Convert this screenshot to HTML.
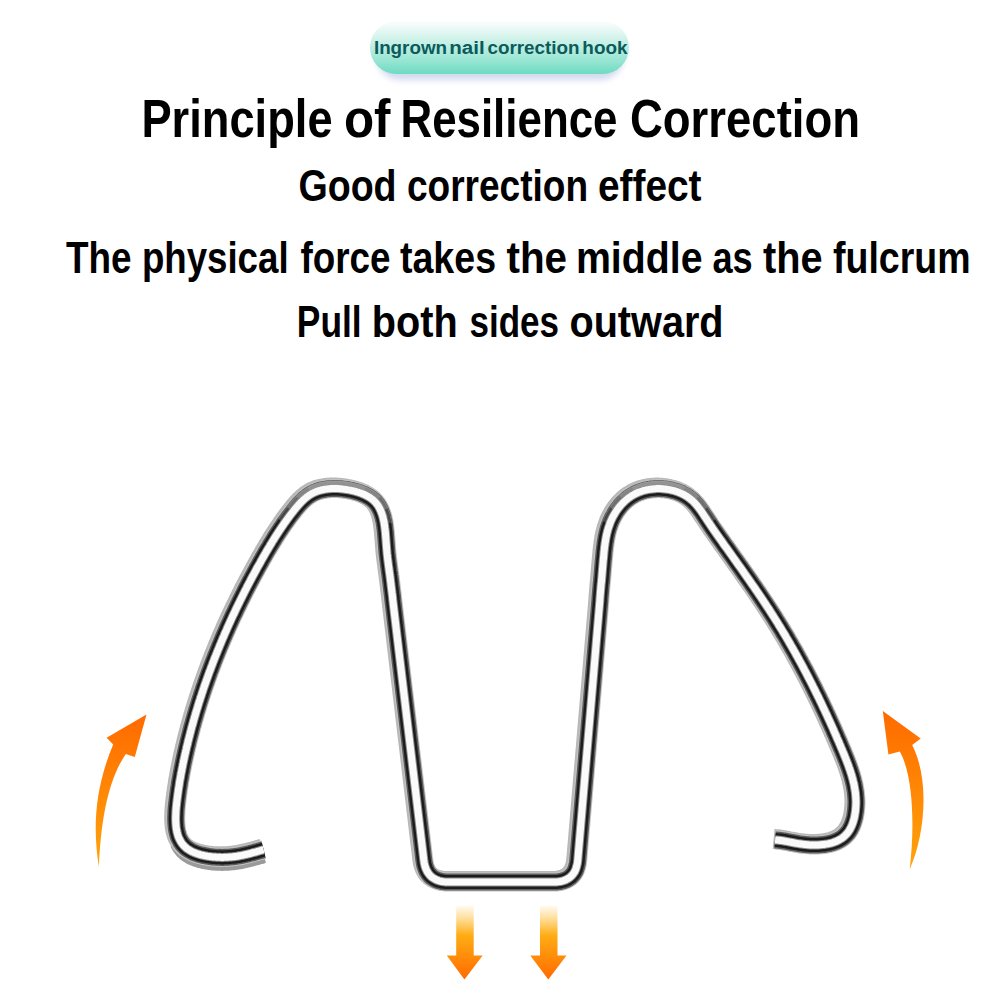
<!DOCTYPE html>
<html><head><meta charset="utf-8">
<style>
html,body{margin:0;padding:0;background:#fff;width:1002px;height:1002px;overflow:hidden}
svg{display:block}
text{font-family:"Liberation Sans",sans-serif;font-weight:bold}
</style></head><body>
<svg width="1002" height="1002" viewBox="0 0 1002 1002">
<defs>
<linearGradient id="pill" x1="0" y1="0" x2="0" y2="1">
<stop offset="0" stop-color="#fdfefe"/>
<stop offset="0.12" stop-color="#eefaf7"/>
<stop offset="0.28" stop-color="#d8f4ed"/>
<stop offset="0.65" stop-color="#a6e9d8"/>
<stop offset="1" stop-color="#6ddbc2"/>
</linearGradient>
<filter id="blur1" x="-10%" y="-30%" width="120%" height="160%"><feGaussianBlur stdDeviation="0.7"/></filter>
<filter id="blur3" x="-20%" y="-50%" width="140%" height="200%"><feGaussianBlur stdDeviation="3"/></filter>
<linearGradient id="upL" x1="0" y1="1" x2="0" y2="0">
<stop offset="0" stop-color="#ffa40a"/>
<stop offset="1" stop-color="#ff6a00"/>
</linearGradient>
<linearGradient id="dn" x1="0" y1="0" x2="0" y2="1">
<stop offset="0" stop-color="#fffaf0"/>
<stop offset="0.18" stop-color="#ffdc94"/>
<stop offset="0.4" stop-color="#ffac14"/>
<stop offset="1" stop-color="#ff6a00"/>
</linearGradient>
<path id="w" d="M263.6,849.7 L262.4,850.0 L261.2,850.4 L259.9,850.7 L258.7,851.1 L257.5,851.4 L256.4,851.8 L255.2,852.1 L254.0,852.4 L252.9,852.7 L251.8,853.0 L250.6,853.3 L249.5,853.6 L248.4,853.9 L247.3,854.2 L246.1,854.4 L245.0,854.7 L243.9,854.9 L242.8,855.2 L241.7,855.4 L240.6,855.6 L239.5,855.8 L238.4,856.0 L237.2,856.2 L236.1,856.4 L234.9,856.5 L233.8,856.7 L232.6,856.8 L231.5,856.9 L230.3,857.0 L229.1,857.1 L227.9,857.2 L226.7,857.3 L225.4,857.3 L224.2,857.3 L222.9,857.4 L221.6,857.4 L220.3,857.3 L219.0,857.3 L217.7,857.3 L216.4,857.2 L215.1,857.1 L213.8,857.0 L212.4,856.9 L211.1,856.7 L209.8,856.6 L208.5,856.4 L207.2,856.2 L205.9,855.9 L204.6,855.7 L203.3,855.4 L202.0,855.1 L200.8,854.8 L199.6,854.5 L198.4,854.1 L197.2,853.7 L196.0,853.3 L194.8,852.8 L193.7,852.4 L192.6,851.9 L191.6,851.4 L190.5,850.8 L189.5,850.2 L188.6,849.6 L187.6,849.0 L186.7,848.4 L185.9,847.7 L185.1,846.9 L184.3,846.2 L183.6,845.4 L182.9,844.6 L182.2,843.8 L181.6,842.9 L181.0,842.1 L180.5,841.1 L180.0,840.2 L179.5,839.3 L179.0,838.3 L178.6,837.3 L178.2,836.3 L177.9,835.2 L177.6,834.2 L177.3,833.1 L177.0,832.0 L176.8,830.9 L176.6,829.8 L176.4,828.7 L176.2,827.5 L176.1,826.4 L176.0,825.2 L175.9,824.0 L175.8,822.8 L175.8,821.6 L175.7,820.4 L175.7,819.1 L175.7,817.9 L175.7,816.7 L175.8,815.4 L175.8,814.2 L175.9,812.9 L175.9,811.7 L176.0,810.4 L176.1,809.1 L176.2,807.9 L176.3,806.6 L176.5,805.3 L176.6,804.1 L176.7,802.8 L176.9,801.6 L177.0,800.3 L177.2,799.0 L177.3,797.8 L177.5,796.6 L177.7,795.3 L177.8,794.1 L178.0,792.9 L178.2,791.6 L178.3,790.4 L178.5,789.2 L178.7,788.0 L178.9,786.8 L179.1,785.6 L179.3,784.4 L179.4,783.2 L179.6,782.0 L179.8,780.8 L180.0,779.6 L180.3,778.4 L180.5,777.2 L180.7,776.0 L180.9,774.8 L181.1,773.6 L181.3,772.5 L181.6,771.3 L181.8,770.1 L182.0,768.9 L182.2,767.8 L182.5,766.6 L182.7,765.4 L182.9,764.2 L183.2,763.1 L183.4,761.9 L183.7,760.7 L183.9,759.6 L184.2,758.4 L184.4,757.2 L184.7,756.1 L184.9,754.9 L185.2,753.8 L185.5,752.6 L185.7,751.4 L186.0,750.3 L186.3,749.1 L186.5,747.9 L186.8,746.8 L187.1,745.6 L187.4,744.5 L187.7,743.3 L187.9,742.1 L188.2,741.0 L188.5,739.8 L188.8,738.7 L189.1,737.5 L189.4,736.3 L189.7,735.2 L190.0,734.0 L190.3,732.9 L190.6,731.7 L190.9,730.6 L191.2,729.4 L191.5,728.2 L191.8,727.1 L192.1,725.9 L192.5,724.8 L192.8,723.6 L193.1,722.5 L193.4,721.3 L193.7,720.2 L194.1,719.0 L194.4,717.9 L194.7,716.7 L195.1,715.6 L195.4,714.4 L195.7,713.3 L196.1,712.1 L196.4,711.0 L196.8,709.8 L197.1,708.7 L197.5,707.6 L197.8,706.4 L198.2,705.3 L198.5,704.1 L198.9,703.0 L199.2,701.8 L199.6,700.7 L200.0,699.6 L200.3,698.4 L200.7,697.3 L201.1,696.1 L201.5,695.0 L201.8,693.9 L202.2,692.7 L202.6,691.6 L203.0,690.4 L203.3,689.3 L203.7,688.2 L204.1,687.0 L204.5,685.9 L204.9,684.8 L205.3,683.6 L205.7,682.5 L206.1,681.4 L206.5,680.2 L206.9,679.1 L207.3,678.0 L207.7,676.9 L208.1,675.7 L208.5,674.6 L208.9,673.5 L209.3,672.3 L209.7,671.2 L210.2,670.1 L210.6,669.0 L211.0,667.8 L211.4,666.7 L211.9,665.6 L212.3,664.5 L212.7,663.3 L213.1,662.2 L213.6,661.1 L214.0,660.0 L214.4,658.9 L214.9,657.7 L215.3,656.6 L215.8,655.5 L216.2,654.4 L216.7,653.3 L217.1,652.2 L217.6,651.0 L218.0,649.9 L218.5,648.8 L218.9,647.7 L219.4,646.6 L219.8,645.5 L220.3,644.4 L220.8,643.3 L221.2,642.2 L221.7,641.0 L222.2,639.9 L222.6,638.8 L223.1,637.7 L223.6,636.6 L224.1,635.5 L224.5,634.4 L225.0,633.3 L225.5,632.2 L226.0,631.1 L226.5,630.0 L226.9,628.9 L227.4,627.8 L227.9,626.7 L228.4,625.6 L228.9,624.5 L229.4,623.4 L229.9,622.3 L230.4,621.2 L230.9,620.1 L231.4,619.0 L231.9,617.9 L232.4,616.8 L232.9,615.7 L233.4,614.6 L234.0,613.6 L234.5,612.5 L235.0,611.4 L235.5,610.3 L236.0,609.2 L236.5,608.1 L237.1,607.0 L237.6,605.9 L238.1,604.9 L238.6,603.8 L239.2,602.7 L239.7,601.6 L240.2,600.5 L240.8,599.4 L241.3,598.4 L241.8,597.3 L242.4,596.2 L242.9,595.1 L243.5,594.0 L244.0,593.0 L244.5,591.9 L245.1,590.8 L245.6,589.7 L246.2,588.7 L246.7,587.6 L247.3,586.5 L247.8,585.5 L248.4,584.4 L249.0,583.3 L249.5,582.2 L250.1,581.2 L250.6,580.1 L251.2,579.1 L251.8,578.0 L252.3,576.9 L252.9,575.9 L253.5,574.8 L254.1,573.7 L254.6,572.7 L255.2,571.6 L255.8,570.6 L256.4,569.5 L256.9,568.4 L257.5,567.4 L258.1,566.3 L258.7,565.3 L259.3,564.2 L259.9,563.2 L260.5,562.1 L261.0,561.1 L261.6,560.0 L262.2,559.0 L262.8,557.9 L263.4,556.9 L264.0,555.8 L264.6,554.8 L265.2,553.7 L265.8,552.7 L266.4,551.6 L267.0,550.6 L267.6,549.6 L268.3,548.5 L268.9,547.5 L269.5,546.5 L270.1,545.4 L270.7,544.4 L271.4,543.4 L272.0,542.3 L272.6,541.3 L273.2,540.3 L273.9,539.3 L274.5,538.2 L275.1,537.2 L275.8,536.2 L276.4,535.2 L277.1,534.2 L277.7,533.2 L278.4,532.2 L279.0,531.2 L279.7,530.2 L280.4,529.2 L281.0,528.2 L281.7,527.2 L282.4,526.2 L283.1,525.2 L283.7,524.2 L284.4,523.2 L285.1,522.3 L285.8,521.3 L286.5,520.3 L287.2,519.3 L287.9,518.4 L288.6,517.4 L289.3,516.5 L290.0,515.5 L290.8,514.5 L291.5,513.6 L292.2,512.7 L293.0,511.7 L293.7,510.8 L294.4,509.8 L295.2,508.9 L295.9,508.0 L296.7,507.1 L297.5,506.2 L298.2,505.3 L299.0,504.4 L299.8,503.5 L300.6,502.7 L301.4,501.8 L302.3,501.0 L303.1,500.2 L304.0,499.4 L304.8,498.6 L305.7,497.9 L306.6,497.1 L307.5,496.4 L308.5,495.8 L309.4,495.1 L310.4,494.5 L311.4,493.9 L312.4,493.3 L313.4,492.8 L314.4,492.3 L315.5,491.9 L316.6,491.4 L317.7,491.0 L318.8,490.7 L320.0,490.3 L321.1,490.0 L322.3,489.8 L323.5,489.5 L324.7,489.3 L325.9,489.1 L327.1,488.9 L328.3,488.8 L329.6,488.7 L330.8,488.6 L332.1,488.6 L333.3,488.5 L334.6,488.5 L335.9,488.5 L337.1,488.6 L338.4,488.6 L339.7,488.7 L341.0,488.8 L342.2,488.9 L343.5,489.1 L344.8,489.3 L346.0,489.4 L347.3,489.6 L348.6,489.9 L349.8,490.1 L351.1,490.3 L352.3,490.6 L353.5,490.9 L354.7,491.2 L355.9,491.5 L357.1,491.9 L358.3,492.2 L359.4,492.6 L360.6,493.0 L361.7,493.4 L362.8,493.9 L363.9,494.3 L365.0,494.8 L366.0,495.3 L367.0,495.9 L368.0,496.4 L369.0,497.0 L369.9,497.6 L370.9,498.2 L371.8,498.9 L372.6,499.6 L373.5,500.3 L374.3,501.1 L375.0,501.8 L375.8,502.6 L376.5,503.5 L377.1,504.3 L377.8,505.2 L378.4,506.1 L378.9,507.1 L379.5,508.1 L380.0,509.1 L380.4,510.1 L380.9,511.1 L381.3,512.2 L381.7,513.3 L382.1,514.4 L382.4,515.5 L382.8,516.7 L383.1,517.8 L383.3,519.0 L383.6,520.2 L383.9,521.4 L384.1,522.6 L384.3,523.9 L384.5,525.1 L384.7,526.3 L384.8,527.6 L385.0,528.9 L385.1,530.1 L385.3,531.4 L385.4,532.7 L385.5,534.0 L385.6,535.3 L385.7,536.6 L385.8,537.8 L385.9,539.1 L386.0,540.4 L386.1,541.7 L386.2,543.0 L386.3,544.3 L386.4,545.5 L386.5,546.8 L386.6,548.0 L386.7,549.3 L386.8,550.5 L386.9,551.7 L387.0,552.9 L387.1,554.2 L387.3,555.3 L387.4,556.5 L387.5,557.7 L387.7,558.9 L387.8,560.1 L388.0,561.2 L388.1,562.4 L388.3,563.5 L388.4,564.7 L388.6,565.8 L388.7,567.0 L388.9,568.2 L389.0,569.3 L389.2,570.5 L389.3,571.6 L389.5,572.8 L389.7,574.0 L389.8,575.1 L390.0,576.3 L390.1,577.5 L390.3,578.6 L390.4,579.8 L390.6,581.0 L390.7,582.2 L390.9,583.4 L391.0,584.6 L391.1,585.7 L391.3,586.9 L391.4,588.1 L391.6,589.3 L391.7,590.5 L391.9,591.7 L392.0,592.9 L392.2,594.1 L392.3,595.3 L392.5,596.5 L392.6,597.7 L392.7,598.9 L392.8,600.0 L423.8,860.0 L424.3,863.3 L425.0,866.2 L426.0,869.0 L427.2,871.5 L428.6,873.7 L430.2,875.6 L432.1,877.3 L434.2,878.7 L436.5,879.9 L439.0,880.8 L441.8,881.5 L444.8,881.9 L448.0,882.0 L554.0,882.0 L557.3,881.9 L560.3,881.5 L563.1,880.8 L565.6,879.9 L567.9,878.7 L570.0,877.3 L571.8,875.6 L573.4,873.7 L574.8,871.5 L575.9,869.0 L576.7,866.2 L577.4,863.3 L577.8,860.0 L599.9,600.0 L599.9,599.1 L600.0,597.9 L600.1,596.7 L600.2,595.5 L600.3,594.3 L600.4,593.1 L600.5,591.9 L600.6,590.7 L600.7,589.5 L600.8,588.3 L600.9,587.1 L601.0,585.9 L601.1,584.7 L601.2,583.5 L601.4,582.3 L601.5,581.1 L601.6,579.9 L601.7,578.7 L601.8,577.5 L601.9,576.3 L602.0,575.0 L602.1,573.8 L602.2,572.6 L602.3,571.4 L602.4,570.2 L602.5,569.0 L602.6,567.8 L602.7,566.6 L602.8,565.4 L602.9,564.2 L603.0,563.0 L603.1,561.8 L603.2,560.6 L603.3,559.4 L603.5,558.1 L603.6,556.9 L603.7,555.7 L603.8,554.5 L603.9,553.3 L604.0,552.1 L604.1,550.9 L604.3,549.7 L604.4,548.5 L604.5,547.3 L604.7,546.1 L604.9,544.9 L605.0,543.7 L605.2,542.5 L605.4,541.3 L605.6,540.1 L605.8,538.9 L606.0,537.7 L606.2,536.6 L606.5,535.4 L606.7,534.2 L607.0,533.1 L607.3,531.9 L607.6,530.7 L607.9,529.6 L608.2,528.5 L608.6,527.3 L609.0,526.2 L609.4,525.1 L609.8,523.9 L610.2,522.8 L610.6,521.7 L611.1,520.6 L611.6,519.5 L612.1,518.4 L612.6,517.4 L613.2,516.3 L613.8,515.3 L614.4,514.2 L615.0,513.2 L615.6,512.2 L616.2,511.2 L616.9,510.2 L617.6,509.2 L618.3,508.3 L619.0,507.3 L619.8,506.4 L620.5,505.5 L621.3,504.6 L622.1,503.8 L622.9,502.9 L623.8,502.1 L624.6,501.3 L625.5,500.5 L626.4,499.7 L627.3,499.0 L628.2,498.2 L629.2,497.5 L630.1,496.9 L631.1,496.2 L632.1,495.6 L633.1,495.0 L634.2,494.4 L635.2,493.8 L636.3,493.3 L637.4,492.8 L638.5,492.3 L639.7,491.9 L640.8,491.5 L642.0,491.1 L643.1,490.7 L644.3,490.4 L645.5,490.1 L646.7,489.8 L647.9,489.6 L649.1,489.4 L650.4,489.2 L651.6,489.0 L652.9,488.9 L654.1,488.8 L655.4,488.7 L656.6,488.6 L657.9,488.6 L659.1,488.6 L660.4,488.6 L661.6,488.7 L662.9,488.8 L664.1,488.9 L665.4,489.0 L666.6,489.2 L667.9,489.4 L669.1,489.6 L670.3,489.8 L671.5,490.1 L672.7,490.4 L673.9,490.7 L675.1,491.0 L676.3,491.4 L677.5,491.8 L678.6,492.2 L679.7,492.7 L680.8,493.1 L681.9,493.6 L683.0,494.2 L684.1,494.7 L685.1,495.3 L686.1,495.9 L687.1,496.5 L688.1,497.2 L689.0,497.9 L689.9,498.6 L690.8,499.3 L691.7,500.1 L692.6,500.8 L693.4,501.6 L694.2,502.5 L695.0,503.3 L695.8,504.2 L696.5,505.0 L697.3,505.9 L698.0,506.8 L698.7,507.8 L699.4,508.7 L700.1,509.6 L700.8,510.6 L701.5,511.5 L702.1,512.5 L702.8,513.5 L703.4,514.5 L704.1,515.5 L704.7,516.5 L705.4,517.4 L706.1,518.4 L706.7,519.4 L707.4,520.4 L708.0,521.4 L708.7,522.4 L709.4,523.4 L710.0,524.4 L710.7,525.4 L711.4,526.4 L712.0,527.4 L712.7,528.4 L713.4,529.4 L714.1,530.4 L714.8,531.4 L715.4,532.3 L716.1,533.3 L716.8,534.3 L717.5,535.3 L718.2,536.3 L718.9,537.3 L719.6,538.3 L720.3,539.3 L721.0,540.2 L721.7,541.2 L722.4,542.2 L723.0,543.2 L723.7,544.2 L724.4,545.2 L725.1,546.2 L725.8,547.1 L726.6,548.1 L727.3,549.1 L728.0,550.1 L728.7,551.1 L729.4,552.1 L730.1,553.1 L730.8,554.0 L731.5,555.0 L732.2,556.0 L732.9,557.0 L733.6,558.0 L734.3,559.0 L735.0,559.9 L735.7,560.9 L736.4,561.9 L737.1,562.9 L737.8,563.9 L738.5,564.9 L739.2,565.9 L739.9,566.8 L740.6,567.8 L741.3,568.8 L742.0,569.8 L742.7,570.8 L743.4,571.8 L744.1,572.8 L744.7,573.8 L745.4,574.7 L746.1,575.7 L746.8,576.7 L747.5,577.7 L748.2,578.7 L748.9,579.7 L749.6,580.7 L750.3,581.7 L751.0,582.7 L751.6,583.7 L752.3,584.7 L753.0,585.6 L753.7,586.6 L754.4,587.6 L755.1,588.6 L755.7,589.6 L756.4,590.6 L757.1,591.6 L757.8,592.6 L758.5,593.6 L759.1,594.6 L759.8,595.6 L760.5,596.6 L761.2,597.6 L761.8,598.6 L762.5,599.6 L763.2,600.6 L763.8,601.6 L764.5,602.6 L765.2,603.6 L765.8,604.6 L766.5,605.6 L767.1,606.6 L767.8,607.6 L768.5,608.6 L769.1,609.6 L769.8,610.6 L770.4,611.7 L771.1,612.7 L771.7,613.7 L772.4,614.7 L773.0,615.7 L773.7,616.7 L774.3,617.7 L774.9,618.7 L775.6,619.8 L776.2,620.8 L776.9,621.8 L777.5,622.8 L778.1,623.8 L778.7,624.9 L779.4,625.9 L780.0,626.9 L780.6,627.9 L781.3,629.0 L781.9,630.0 L782.5,631.0 L783.1,632.0 L783.7,633.1 L784.4,634.1 L785.0,635.1 L785.6,636.1 L786.2,637.2 L786.8,638.2 L787.4,639.2 L788.0,640.3 L788.6,641.3 L789.2,642.4 L789.8,643.4 L790.4,644.4 L791.0,645.5 L791.6,646.5 L792.2,647.6 L792.8,648.6 L793.4,649.6 L794.0,650.7 L794.6,651.7 L795.2,652.8 L795.7,653.8 L796.3,654.9 L796.9,655.9 L797.5,657.0 L798.1,658.0 L798.6,659.1 L799.2,660.1 L799.8,661.2 L800.4,662.2 L800.9,663.3 L801.5,664.3 L802.1,665.4 L802.6,666.4 L803.2,667.5 L803.8,668.6 L804.3,669.6 L804.9,670.7 L805.5,671.7 L806.0,672.8 L806.6,673.9 L807.1,674.9 L807.7,676.0 L808.2,677.1 L808.8,678.1 L809.3,679.2 L809.9,680.3 L810.4,681.3 L811.0,682.4 L811.5,683.5 L812.1,684.5 L812.6,685.6 L813.1,686.7 L813.7,687.7 L814.2,688.8 L814.7,689.9 L815.3,691.0 L815.8,692.1 L816.3,693.1 L816.9,694.2 L817.4,695.3 L817.9,696.4 L818.5,697.4 L819.0,698.5 L819.5,699.6 L820.0,700.7 L820.6,701.8 L821.1,702.9 L821.6,703.9 L822.1,705.0 L822.6,706.1 L823.1,707.2 L823.6,708.3 L824.2,709.4 L824.7,710.5 L825.2,711.6 L825.7,712.7 L826.2,713.7 L826.7,714.8 L827.2,715.9 L827.7,717.0 L828.2,718.1 L828.7,719.2 L829.2,720.3 L829.7,721.4 L830.2,722.5 L830.7,723.6 L831.2,724.7 L831.7,725.8 L832.2,726.9 L832.7,728.0 L833.2,729.1 L833.7,730.2 L834.1,731.3 L834.6,732.4 L835.1,733.5 L835.6,734.6 L836.1,735.7 L836.6,736.9 L837.0,738.0 L837.5,739.1 L838.0,740.2 L838.5,741.3 L839.0,742.4 L839.4,743.5 L839.9,744.6 L840.4,745.7 L840.8,746.9 L841.3,748.0 L841.8,749.1 L842.3,750.2 L842.7,751.3 L843.2,752.4 L843.7,753.6 L844.1,754.7 L844.6,755.8 L845.0,756.9 L845.5,758.0 L845.9,759.2 L846.4,760.3 L846.8,761.4 L847.2,762.5 L847.7,763.7 L848.1,764.8 L848.5,765.9 L848.9,767.1 L849.3,768.2 L849.7,769.3 L850.1,770.5 L850.5,771.6 L850.8,772.8 L851.2,773.9 L851.6,775.1 L851.9,776.2 L852.2,777.4 L852.5,778.5 L852.9,779.7 L853.1,780.8 L853.4,782.0 L853.7,783.2 L854.0,784.3 L854.2,785.5 L854.4,786.7 L854.6,787.9 L854.8,789.0 L855.0,790.2 L855.2,791.4 L855.4,792.6 L855.5,793.8 L855.6,795.0 L855.7,796.2 L855.8,797.4 L855.9,798.6 L855.9,799.8 L856.0,801.0 L856.0,802.3 L856.0,803.5 L855.9,804.7 L855.9,805.9 L855.8,807.2 L855.7,808.4 L855.6,809.7 L855.5,810.9 L855.3,812.1 L855.1,813.4 L854.9,814.6 L854.7,815.8 L854.5,817.0 L854.2,818.2 L853.9,819.4 L853.5,820.6 L853.2,821.8 L852.8,822.9 L852.4,824.1 L851.9,825.2 L851.5,826.3 L851.0,827.3 L850.4,828.4 L849.9,829.4 L849.3,830.4 L848.7,831.3 L848.0,832.3 L847.3,833.2 L846.6,834.0 L845.8,834.8 L845.0,835.6 L844.2,836.4 L843.4,837.1 L842.5,837.8 L841.6,838.4 L840.6,839.0 L839.6,839.6 L838.6,840.2 L837.6,840.7 L836.6,841.2 L835.5,841.6 L834.4,842.0 L833.3,842.4 L832.1,842.8 L831.0,843.1 L829.8,843.4 L828.6,843.7 L827.4,843.9 L826.2,844.1 L825.0,844.3 L823.7,844.5 L822.5,844.6 L821.2,844.7 L819.9,844.8 L818.6,844.9 L817.4,845.0 L816.1,845.0 L814.8,845.0 L813.5,845.0 L812.2,845.0 L810.9,844.9 L809.6,844.9 L808.3,844.8 L807.0,844.7 L805.7,844.6 L804.5,844.4 L803.2,844.3 L801.9,844.1 L800.7,844.0 L799.4,843.8 L798.2,843.6 L797.0,843.4 L795.8,843.2 L794.6,843.0 L793.4,842.7 L792.2,842.5 L791.0,842.3 L789.9,842.1 L788.7,841.8 L787.5,841.6 L786.4,841.4 L785.3,841.2 L784.1,841.0 L783.0,840.8 L781.9,840.6 L780.7,840.5 L779.6,840.3 L778.5,840.2 L777.4,840.1 L776.2,840.0 L775.1,839.9"/>
</defs>
<rect x="0" y="0" width="1002" height="1002" fill="#fff"/>
<rect x="376" y="32" width="248" height="48" rx="24" fill="#d3daf0" filter="url(#blur3)"/>
<rect x="370" y="21" width="259" height="53" rx="26.5" fill="url(#pill)" filter="url(#blur1)"/>
<text x="373.92" y="54" font-size="18" fill="#0b5b5c" textLength="73.13" lengthAdjust="spacingAndGlyphs">Ingrown</text>
<text x="449.28" y="54" font-size="18" fill="#0b5b5c" textLength="35.44" lengthAdjust="spacingAndGlyphs">nail</text>
<text x="487.46" y="54" font-size="18" fill="#0b5b5c" textLength="92.08" lengthAdjust="spacingAndGlyphs">correction</text>
<text x="582.37" y="54" font-size="18" fill="#0b5b5c" textLength="45.19" lengthAdjust="spacingAndGlyphs">hook</text>
<text x="141.41" y="137" font-size="54" fill="#000" textLength="191.14" lengthAdjust="spacingAndGlyphs">Principle</text>
<text x="343.91" y="137" font-size="54" fill="#000" textLength="46.58" lengthAdjust="spacingAndGlyphs">of</text>
<text x="400.45" y="137" font-size="54" fill="#000" textLength="217.08" lengthAdjust="spacingAndGlyphs">Resilience</text>
<text x="629.97" y="137" font-size="54" fill="#000" textLength="230.08" lengthAdjust="spacingAndGlyphs">Correction</text>
<text x="298.43" y="201" font-size="43.5" fill="#000" textLength="98.18" lengthAdjust="spacingAndGlyphs">Good</text>
<text x="406.97" y="201" font-size="43.5" fill="#000" textLength="181.07" lengthAdjust="spacingAndGlyphs">correction</text>
<text x="597.95" y="201" font-size="43.5" fill="#000" textLength="103.58" lengthAdjust="spacingAndGlyphs">effect</text>
<text x="65.98" y="272.5" font-size="43.5" fill="#000" textLength="65.56" lengthAdjust="spacingAndGlyphs">The</text>
<text x="141.91" y="272.5" font-size="43.5" fill="#000" textLength="146.66" lengthAdjust="spacingAndGlyphs">physical</text>
<text x="300.49" y="272.5" font-size="43.5" fill="#000" textLength="90.04" lengthAdjust="spacingAndGlyphs">force</text>
<text x="399.99" y="272.5" font-size="43.5" fill="#000" textLength="96.05" lengthAdjust="spacingAndGlyphs">takes</text>
<text x="506.47" y="272.5" font-size="43.5" fill="#000" textLength="60.60" lengthAdjust="spacingAndGlyphs">the</text>
<text x="575.92" y="272.5" font-size="43.5" fill="#000" textLength="126.63" lengthAdjust="spacingAndGlyphs">middle</text>
<text x="712.40" y="272.5" font-size="43.5" fill="#000" textLength="40.20" lengthAdjust="spacingAndGlyphs">as</text>
<text x="762.98" y="272.5" font-size="43.5" fill="#000" textLength="59.60" lengthAdjust="spacingAndGlyphs">the</text>
<text x="832.98" y="272.5" font-size="43.5" fill="#000" textLength="137.56" lengthAdjust="spacingAndGlyphs">fulcrum</text>
<text x="296.84" y="337" font-size="43.5" fill="#000" textLength="64.83" lengthAdjust="spacingAndGlyphs">Pull</text>
<text x="371.82" y="337" font-size="43.5" fill="#000" textLength="85.80" lengthAdjust="spacingAndGlyphs">both</text>
<text x="469.46" y="337" font-size="43.5" fill="#000" textLength="89.56" lengthAdjust="spacingAndGlyphs">sides</text>
<text x="569.47" y="337" font-size="43.5" fill="#000" textLength="154.09" lengthAdjust="spacingAndGlyphs">outward</text>
<g fill="none" stroke-linecap="butt" stroke-linejoin="round">
<path d="M263.6,849.7 L262.4,850.0 L261.2,850.4 L259.9,850.7 L258.7,851.1 L257.5,851.4 L256.4,851.8 L255.2,852.1 L254.0,852.4 L252.9,852.7 L251.8,853.0 L250.6,853.3 L249.5,853.6 L248.4,853.9 L247.3,854.2 L246.1,854.4 L245.0,854.7 L243.9,854.9 L242.8,855.2 L241.7,855.4 L240.6,855.6 L239.5,855.8 L238.4,856.0 L237.2,856.2 L236.1,856.4 L234.9,856.5 L233.8,856.7 L232.6,856.8 L231.5,856.9 L230.3,857.0 L229.1,857.1 L227.9,857.2 L226.7,857.3 L225.4,857.3 L224.2,857.3 L222.9,857.4 L221.6,857.4 L220.3,857.3 L219.0,857.3 L217.7,857.3 L216.4,857.2 L215.1,857.1 L213.8,857.0 L212.4,856.9 L211.1,856.7 L209.8,856.6 L208.5,856.4 L207.2,856.2 L205.9,855.9 L204.6,855.7 L203.3,855.4 L202.0,855.1 L200.8,854.8 L199.6,854.5 L198.4,854.1 L197.2,853.7 L196.0,853.3 L194.8,852.8 L193.7,852.4 L192.6,851.9 L191.6,851.4 L190.5,850.8 L189.5,850.2 L188.6,849.6 L187.6,849.0 L186.7,848.4 L185.9,847.7 L185.1,846.9 L184.3,846.2 L183.6,845.4 L182.9,844.6 L182.2,843.8 L181.6,842.9 L181.0,842.1 L180.5,841.1 L180.0,840.2 L179.5,839.3 L179.0,838.3" stroke="#9a9a9a" stroke-width="19" transform="translate(0,4)"/>
<use href="#w" stroke="#b8b8b8" stroke-width="20" transform="translate(-1.5,-1)"/>
<use href="#w" stroke="#c4c4c4" stroke-width="19"/>
<use href="#w" stroke="#5c5c5c" stroke-width="17"/>
<use href="#w" stroke="#1c1c1c" stroke-width="14"/>
<use href="#w" stroke="#8c8c8c" stroke-width="9"/>
<use href="#w" stroke="#fafafa" stroke-width="7"/>
<path d="M308.4,488.7 L309.5,488.1 L310.7,487.4 L312.0,486.9 L313.2,486.3 L314.5,485.8 L315.8,485.4 L317.1,484.9 L318.4,484.6 L319.7,484.2 L321.0,483.9 L322.3,483.6 L323.7,483.4 L325.0,483.2 L326.4,483.0 L327.7,482.8 L329.1,482.7 L330.5,482.6 L331.9,482.6 L333.2,482.5 L334.6,482.5 L336.0,482.5 L337.4,482.6 L338.7,482.6 L340.1,482.7 L341.5,482.8 L342.9,483.0 L344.2,483.1 L345.6,483.3 L346.9,483.5 L348.3,483.7 L349.6,483.9 L351.0,484.2 L352.3,484.5 L353.6,484.8 L354.9,485.1 L356.2,485.4 L357.5,485.7 L358.8,486.1 L360.1,486.5 L361.4,486.9 L362.6,487.4 L363.9,487.8 L365.1,488.3 M632.5,488.5 L633.8,487.9 L635.0,487.3 L636.3,486.8 L637.5,486.3 L638.8,485.8 L640.1,485.4 L641.4,485.0 L642.8,484.6 L644.1,484.3 L645.4,484.0 L646.8,483.7 L648.2,483.5 L649.5,483.2 L650.9,483.1 L652.3,482.9 L653.6,482.8 L655.0,482.7 L656.4,482.6 L657.8,482.6 L659.2,482.6 L660.6,482.6 L662.0,482.7 L663.3,482.8 L664.7,482.9 L666.1,483.0 L667.5,483.2 L668.8,483.4 L670.2,483.7 L671.5,483.9 L672.9,484.2 L674.2,484.6 L675.6,484.9 L676.9,485.3 L678.2,485.7 L679.5,486.1 L680.7,486.6 L682.0,487.1 L683.3,487.7 L684.5,488.2" stroke="#a8a8a8" stroke-opacity="0.4" stroke-width="3.5"/>
<path d="M297.2,497.6 L298.1,496.7 L299.0,495.8 L299.9,494.9 L300.9,494.1 L301.9,493.2 L302.9,492.4 L303.9,491.6 L305.0,490.9 L306.1,490.1 L307.2,489.4 L308.4,488.7 L309.5,488.1 L310.7,487.4 L312.0,486.9 L313.2,486.3 L314.5,485.8 L315.8,485.4 L317.1,484.9 L318.4,484.6 L319.7,484.2 L321.0,483.9 L322.3,483.6 L323.7,483.4 L325.0,483.2 L326.4,483.0 L327.7,482.8 L329.1,482.7 L330.5,482.6 L331.9,482.6 L333.2,482.5 L334.6,482.5 L336.0,482.5 L337.4,482.6 L338.7,482.6 L340.1,482.7 L341.5,482.8 L342.9,483.0 L344.2,483.1 L345.6,483.3 L346.9,483.5 L348.3,483.7 L349.6,483.9 L351.0,484.2 L352.3,484.5 L353.6,484.8 L354.9,485.1 L356.2,485.4 L357.5,485.7 L358.8,486.1 L360.1,486.5 L361.4,486.9 L362.6,487.4 L363.9,487.8 L365.1,488.3 L366.3,488.8 L367.5,489.4 L368.7,490.0 L369.9,490.6 L371.0,491.2 L372.2,491.9 L373.3,492.6 L374.4,493.4 L375.4,494.2 L376.5,495.0 L377.5,495.8 L378.4,496.7 L379.4,497.7 M620.5,496.9 L621.5,496.0 L622.5,495.1 L623.5,494.3 L624.6,493.5 L625.7,492.7 L626.8,491.9 L627.9,491.2 L629.0,490.4 L630.2,489.8 L631.3,489.1 L632.5,488.5 L633.8,487.9 L635.0,487.3 L636.3,486.8 L637.5,486.3 L638.8,485.8 L640.1,485.4 L641.4,485.0 L642.8,484.6 L644.1,484.3 L645.4,484.0 L646.8,483.7 L648.2,483.5 L649.5,483.2 L650.9,483.1 L652.3,482.9 L653.6,482.8 L655.0,482.7 L656.4,482.6 L657.8,482.6 L659.2,482.6 L660.6,482.6 L662.0,482.7 L663.3,482.8 L664.7,482.9 L666.1,483.0 L667.5,483.2 L668.8,483.4 L670.2,483.7 L671.5,483.9 L672.9,484.2 L674.2,484.6 L675.6,484.9 L676.9,485.3 L678.2,485.7 L679.5,486.1 L680.7,486.6 L682.0,487.1 L683.3,487.7 L684.5,488.2 L685.7,488.8 L686.9,489.4 L688.1,490.1 L689.3,490.8 L690.4,491.5 L691.5,492.3 L692.6,493.1 L693.7,493.9 L694.7,494.7 L695.7,495.6 L696.7,496.5 L697.6,497.4" stroke="#a8a8a8" stroke-opacity="0.4" stroke-width="3.5"/>
<path d="M288.2,508.0 L289.0,507.1 L289.8,506.1 L290.5,505.1 L291.3,504.2 L292.1,503.2 L292.9,502.3 L293.7,501.3 L294.6,500.4 L295.4,499.4 L296.3,498.5 L297.2,497.6 L298.1,496.7 L299.0,495.8 L299.9,494.9 L300.9,494.1 L301.9,493.2 L302.9,492.4 L303.9,491.6 L305.0,490.9 L306.1,490.1 L307.2,489.4 L308.4,488.7 L309.5,488.1 L310.7,487.4 L312.0,486.9 L313.2,486.3 L314.5,485.8 L315.8,485.4 L317.1,484.9 L318.4,484.6 L319.7,484.2 L321.0,483.9 L322.3,483.6 L323.7,483.4 L325.0,483.2 L326.4,483.0 L327.7,482.8 L329.1,482.7 L330.5,482.6 L331.9,482.6 L333.2,482.5 L334.6,482.5 L336.0,482.5 L337.4,482.6 L338.7,482.6 L340.1,482.7 L341.5,482.8 L342.9,483.0 L344.2,483.1 L345.6,483.3 L346.9,483.5 L348.3,483.7 L349.6,483.9 L351.0,484.2 L352.3,484.5 L353.6,484.8 L354.9,485.1 L356.2,485.4 L357.5,485.7 L358.8,486.1 L360.1,486.5 L361.4,486.9 L362.6,487.4 L363.9,487.8 L365.1,488.3 L366.3,488.8 L367.5,489.4 L368.7,490.0 L369.9,490.6 L371.0,491.2 L372.2,491.9 L373.3,492.6 L374.4,493.4 L375.4,494.2 L376.5,495.0 L377.5,495.8 L378.4,496.7 L379.4,497.7 L380.3,498.7 L381.1,499.7 L382.0,500.8 L382.7,501.9 L383.4,503.0 L384.1,504.1 L384.8,505.3 L385.4,506.4 L385.9,507.6 L386.4,508.8 M611.2,507.9 L612.0,506.8 L612.7,505.7 L613.5,504.7 L614.3,503.6 L615.1,502.6 L616.0,501.6 L616.8,500.6 L617.7,499.7 L618.6,498.7 L619.6,497.8 L620.5,496.9 L621.5,496.0 L622.5,495.1 L623.5,494.3 L624.6,493.5 L625.7,492.7 L626.8,491.9 L627.9,491.2 L629.0,490.4 L630.2,489.8 L631.3,489.1 L632.5,488.5 L633.8,487.9 L635.0,487.3 L636.3,486.8 L637.5,486.3 L638.8,485.8 L640.1,485.4 L641.4,485.0 L642.8,484.6 L644.1,484.3 L645.4,484.0 L646.8,483.7 L648.2,483.5 L649.5,483.2 L650.9,483.1 L652.3,482.9 L653.6,482.8 L655.0,482.7 L656.4,482.6 L657.8,482.6 L659.2,482.6 L660.6,482.6 L662.0,482.7 L663.3,482.8 L664.7,482.9 L666.1,483.0 L667.5,483.2 L668.8,483.4 L670.2,483.7 L671.5,483.9 L672.9,484.2 L674.2,484.6 L675.6,484.9 L676.9,485.3 L678.2,485.7 L679.5,486.1 L680.7,486.6 L682.0,487.1 L683.3,487.7 L684.5,488.2 L685.7,488.8 L686.9,489.4 L688.1,490.1 L689.3,490.8 L690.4,491.5 L691.5,492.3 L692.6,493.1 L693.7,493.9 L694.7,494.7 L695.7,495.6 L696.7,496.5 L697.6,497.4 L698.5,498.3 L699.4,499.2 L700.3,500.2 L701.1,501.2 L701.9,502.1 L702.7,503.1 L703.5,504.1 L704.2,505.1 L705.0,506.1 L705.7,507.1 L706.4,508.1" stroke="#a8a8a8" stroke-opacity="0.4" stroke-width="3.5"/>
<path d="M279.5,519.8 L280.2,518.8 L280.9,517.8 L281.6,516.8 L282.3,515.8 L283.1,514.8 L283.8,513.8 L284.5,512.9 L285.3,511.9 L286.0,510.9 L286.7,509.9 L287.5,509.0 L288.2,508.0 L289.0,507.1 L289.8,506.1 L290.5,505.1 L291.3,504.2 L292.1,503.2 L292.9,502.3 L293.7,501.3 L294.6,500.4 L295.4,499.4 L296.3,498.5 L297.2,497.6 L298.1,496.7 L299.0,495.8 L299.9,494.9 L300.9,494.1 L301.9,493.2 L302.9,492.4 L303.9,491.6 L305.0,490.9 L306.1,490.1 L307.2,489.4 L308.4,488.7 L309.5,488.1 L310.7,487.4 L312.0,486.9 L313.2,486.3 L314.5,485.8 L315.8,485.4 L317.1,484.9 L318.4,484.6 L319.7,484.2 L321.0,483.9 L322.3,483.6 L323.7,483.4 L325.0,483.2 L326.4,483.0 L327.7,482.8 L329.1,482.7 L330.5,482.6 L331.9,482.6 L333.2,482.5 L334.6,482.5 L336.0,482.5 L337.4,482.6 L338.7,482.6 L340.1,482.7 L341.5,482.8 L342.9,483.0 L344.2,483.1 L345.6,483.3 L346.9,483.5 L348.3,483.7 L349.6,483.9 L351.0,484.2 L352.3,484.5 L353.6,484.8 L354.9,485.1 L356.2,485.4 L357.5,485.7 L358.8,486.1 L360.1,486.5 L361.4,486.9 L362.6,487.4 L363.9,487.8 L365.1,488.3 L366.3,488.8 L367.5,489.4 L368.7,490.0 L369.9,490.6 L371.0,491.2 L372.2,491.9 L373.3,492.6 L374.4,493.4 L375.4,494.2 L376.5,495.0 L377.5,495.8 L378.4,496.7 L379.4,497.7 L380.3,498.7 L381.1,499.7 L382.0,500.8 L382.7,501.9 L383.4,503.0 L384.1,504.1 L384.8,505.3 L385.4,506.4 L385.9,507.6 L386.4,508.8 L386.9,510.1 L387.4,511.3 L387.8,512.6 L388.2,513.8 L388.5,515.1 L388.9,516.4 L389.2,517.7 L389.5,519.0 L389.7,520.3 L390.0,521.6 L390.2,522.9 M604.2,521.8 L604.6,520.6 L605.1,519.4 L605.6,518.2 L606.2,517.0 L606.7,515.8 L607.3,514.7 L607.9,513.5 L608.5,512.4 L609.2,511.2 L609.8,510.1 L610.5,509.0 L611.2,507.9 L612.0,506.8 L612.7,505.7 L613.5,504.7 L614.3,503.6 L615.1,502.6 L616.0,501.6 L616.8,500.6 L617.7,499.7 L618.6,498.7 L619.6,497.8 L620.5,496.9 L621.5,496.0 L622.5,495.1 L623.5,494.3 L624.6,493.5 L625.7,492.7 L626.8,491.9 L627.9,491.2 L629.0,490.4 L630.2,489.8 L631.3,489.1 L632.5,488.5 L633.8,487.9 L635.0,487.3 L636.3,486.8 L637.5,486.3 L638.8,485.8 L640.1,485.4 L641.4,485.0 L642.8,484.6 L644.1,484.3 L645.4,484.0 L646.8,483.7 L648.2,483.5 L649.5,483.2 L650.9,483.1 L652.3,482.9 L653.6,482.8 L655.0,482.7 L656.4,482.6 L657.8,482.6 L659.2,482.6 L660.6,482.6 L662.0,482.7 L663.3,482.8 L664.7,482.9 L666.1,483.0 L667.5,483.2 L668.8,483.4 L670.2,483.7 L671.5,483.9 L672.9,484.2 L674.2,484.6 L675.6,484.9 L676.9,485.3 L678.2,485.7 L679.5,486.1 L680.7,486.6 L682.0,487.1 L683.3,487.7 L684.5,488.2 L685.7,488.8 L686.9,489.4 L688.1,490.1 L689.3,490.8 L690.4,491.5 L691.5,492.3 L692.6,493.1 L693.7,493.9 L694.7,494.7 L695.7,495.6 L696.7,496.5 L697.6,497.4 L698.5,498.3 L699.4,499.2 L700.3,500.2 L701.1,501.2 L701.9,502.1 L702.7,503.1 L703.5,504.1 L704.2,505.1 L705.0,506.1 L705.7,507.1 L706.4,508.1 L707.1,509.1 L707.8,510.1 L708.4,511.1 L709.1,512.2 L709.8,513.2 L710.4,514.2 L711.1,515.2 L711.7,516.1 L712.4,517.1 L713.0,518.1 L713.7,519.1 L714.3,520.1" stroke="#a8a8a8" stroke-opacity="0.3" stroke-width="3.5"/>
</g>
<path d="M98.9,867 C93,830 94,790 113.2,744.5 L106.6,737.7 L146.5,714.4 L134.8,757.1 L125.8,753.9 C108,780 101,820 98.9,867 Z" fill="url(#upL)"/>
<path d="M909.7,869.2 C925,835 930,780 912.2,745 L920.7,738.4 L882.8,710.9 L888.4,754.5 L899.8,751.6 C913,775 915,825 909.7,869.2 Z" fill="url(#upL)"/>
<path d="M456.2,906 L473.7,906 L473.7,955.6 L482.7,955.6 L464.4,979.6 L446.8,955.6 L456.2,955.6 Z" fill="url(#dn)"/>
<path d="M540,906 L557.5,906 L557.5,955.6 L566.5,955.6 L548.3,979.6 L530.3,955.6 L540,955.6 Z" fill="url(#dn)"/>
</svg>
</body></html>
